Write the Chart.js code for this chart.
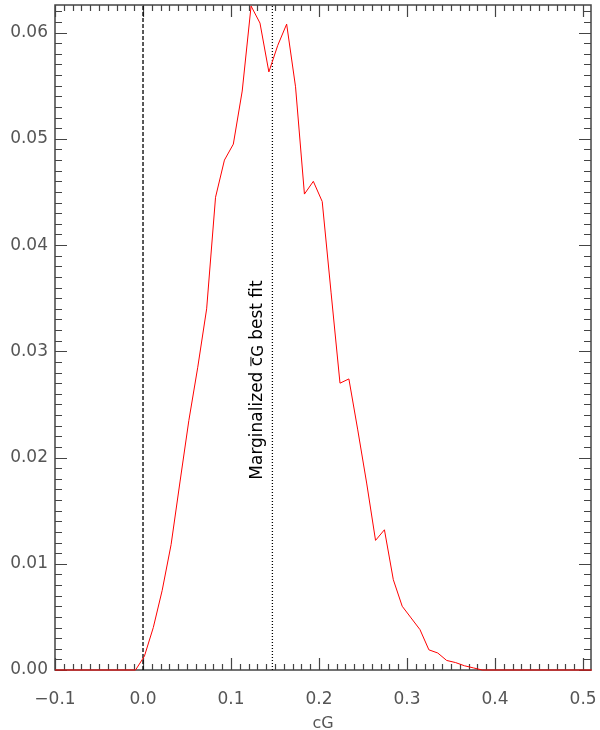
<!DOCTYPE html>
<html>
<head>
<meta charset="utf-8">
<script src="https://cdn.jsdelivr.net/npm/chart.js@4/dist/chart.umd.min.js"></script>
<style>
  body { margin: 0; background: #fff; }
  canvas { display: block; }
</style>
</head>
<body>
<canvas id="chart" width="600" height="730"></canvas>
<script>
// marginalized posterior of cG
const cgValues = [-0.1, -0.0085, 0.0016, 0.0117, 0.0218, 0.0319, 0.042, 0.0521, 0.0622, 0.0723,
  0.0824, 0.0925, 0.1026, 0.1127, 0.1228, 0.1329, 0.143, 0.1531, 0.1632, 0.1733,
  0.1834, 0.1935, 0.2036, 0.2137, 0.2238, 0.2339, 0.244, 0.2541, 0.2642, 0.2743,
  0.2844, 0.2945, 0.3046, 0.3147, 0.3248, 0.3349, 0.345, 0.3551, 0.3652, 0.3753,
  0.3854, 0.51];
const probValues = [0, 0, 0.0013, 0.0040, 0.0075, 0.0118, 0.0177, 0.0235, 0.0285, 0.0340,
  0.0445, 0.0480, 0.0495, 0.0545, 0.0625, 0.0609, 0.0563, 0.0588, 0.0608, 0.0549,
  0.0448, 0.0460, 0.0441, 0.0355, 0.0270, 0.0274, 0.0226, 0.0176, 0.0122, 0.0132,
  0.0085, 0.0060, 0.0049, 0.0038, 0.0019, 0.0016, 0.0009, 0.0007, 0.0004, 0.0002,
  0, 0];

const xTicks = [-0.1, 0.0, 0.1, 0.2, 0.3, 0.4, 0.5];
const yTicks = [0.00, 0.01, 0.02, 0.03, 0.04, 0.05, 0.06];
const xRange = [-0.1, 0.509];
const yRange = [0, 0.0626];

const zeroLine = 0.0;
const bestFit = 0.147;
const noteText = 'Marginalized ';
const noteSymbol = 'c';
const noteSub = 'G';
const noteTail = ' best fit';
const noteAt = { x: 0.13, y: 0.0273 };

const axisColor = '#444';

const curve = cgValues.map((x, i) => ({ x: x, y: probValues[i] }));

function noPadding(s) {
  s.paddingLeft = 0;
  s.paddingRight = 0;
  s.paddingTop = 0;
  s.paddingBottom = 0;
}

// IDL-style box with ticks pointing inwards
const boxPlugin = {
  id: 'box',
  beforeDatasetsDraw(chart) {
    const c = chart.ctx;
    const xs = chart.scales.x;
    const ys = chart.scales.y;
    const a = chart.chartArea;
    c.save();
    c.strokeStyle = axisColor;
    c.lineWidth = 1.5;
    c.strokeRect(a.left, a.top, a.right - a.left, a.bottom - a.top);
    c.lineWidth = 1.2;
    c.beginPath();
    for (let i = 0; i <= 60; i++) {
      const v = -0.1 + i * 0.01;
      const px = Math.round(xs.getPixelForValue(v)) + 0.5;
      const len = i % 10 === 0 ? 12 : 6;
      c.moveTo(px, a.bottom); c.lineTo(px, a.bottom - len);
      c.moveTo(px, a.top); c.lineTo(px, a.top + len);
    }
    for (let i = 0; i <= 62; i++) {
      const v = i * 0.001;
      const py = Math.round(ys.getPixelForValue(v)) + 0.5;
      const len = i % 10 === 0 ? 12 : 7;
      c.moveTo(a.left, py); c.lineTo(a.left + len, py);
      c.moveTo(a.right, py); c.lineTo(a.right - len, py);
    }
    c.stroke();
    c.restore();
  },
  afterDraw(chart) {
    const c = chart.ctx;
    const px = chart.scales.x.getPixelForValue(noteAt.x);
    const py = chart.scales.y.getPixelForValue(noteAt.y);
    c.save();
    c.translate(px, py);
    c.rotate(-Math.PI / 2);
    c.fillStyle = '#000';
    c.strokeStyle = '#000';
    c.textBaseline = 'middle';
    const big = '17px "DejaVu Sans"';
    const small = '15px "DejaVu Sans"';
    c.font = big;
    const w1 = c.measureText(noteText).width;
    const w2 = c.measureText(noteSymbol).width;
    const w4 = c.measureText(noteTail).width;
    c.font = small;
    const w3 = c.measureText(noteSub).width;
    let x = -(w1 + w2 + w3 + w4) / 2;
    c.font = big;
    c.fillText(noteText, x, 0);
    x += w1;
    c.fillText(noteSymbol, x, 0);
    c.lineWidth = 1;
    c.beginPath();
    c.moveTo(x, -6.5); c.lineTo(x + w2, -6.5);
    c.stroke();
    x += w2;
    c.font = small;
    c.fillText(noteSub, x, 1.5);
    x += w3;
    c.font = big;
    c.fillText(noteTail, x, 0);
    c.restore();
  }
};

new Chart(document.getElementById('chart'), {
  type: 'line',
  data: {
    datasets: [
      {
        data: curve,
        borderColor: '#ff0000',
        borderWidth: 1,
        pointRadius: 0,
        tension: 0,
        clip: 3
      },
      {
        data: [{ x: zeroLine, y: yRange[0] }, { x: zeroLine, y: yRange[1] }],
        borderColor: '#000',
        borderWidth: 1.3,
        borderDash: [4, 2],
        pointRadius: 0
      },
      {
        data: [{ x: bestFit, y: yRange[0] }, { x: bestFit, y: yRange[1] }],
        borderColor: '#000',
        borderWidth: 1.3,
        borderDash: [1, 2],
        pointRadius: 0
      }
    ]
  },
  options: {
    responsive: false,
    animation: false,
    devicePixelRatio: 1,
    layout: { padding: { left: 0, right: 9, top: 5, bottom: 0 } },
    plugins: { legend: { display: false }, tooltip: { enabled: false } },
    scales: {
      x: {
        type: 'linear',
        min: xRange[0],
        max: xRange[1],
        afterBuildTicks: s => { s.ticks = xTicks.map(v => ({ value: v })); },
        afterFit: s => { s.height = 60; noPadding(s); },
        grid: { display: false, drawTicks: false },
        border: { display: false },
        ticks: {
          padding: 19,
          color: '#555',
          font: { family: 'DejaVu Sans', size: 17 },
          maxRotation: 0,
          callback: v => v.toFixed(1).replace('-', '\u2212')
        },
        title: {
          display: true,
          text: 'cG',
          color: '#555',
          font: { family: 'DejaVu Sans', size: 16 },
          padding: { top: 0, bottom: -3 }
        }
      },
      y: {
        type: 'linear',
        min: yRange[0],
        max: yRange[1],
        afterBuildTicks: s => { s.ticks = yTicks.map(v => ({ value: v })); },
        afterFit: s => { s.width = 55; noPadding(s); },
        grid: { display: false, drawTicks: false },
        border: { display: false },
        ticks: {
          padding: 7,
          color: '#555',
          font: { family: 'DejaVu Sans', size: 17 },
          callback: v => v.toFixed(2)
        }
      }
    }
  },
  plugins: [boxPlugin]
});
</script>
</body>
</html>
